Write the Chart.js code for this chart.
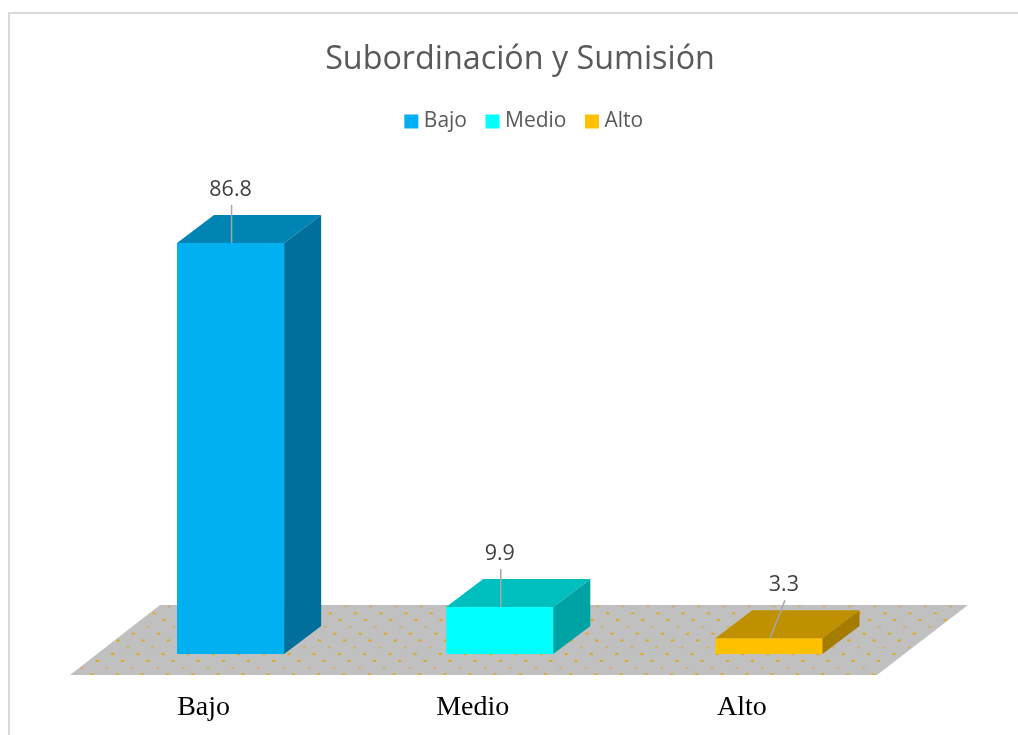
<!DOCTYPE html>
<html>
<head>
<meta charset="utf-8">
<style>
html,body{margin:0;padding:0;background:#fff;overflow:hidden}
#wrap{position:relative;width:1018px;height:735px}
#frame{position:absolute;left:8px;top:12px;width:1040px;height:760px;border-left:2px solid #D9D9D9;border-top:2px solid #D9D9D9;box-sizing:border-box;pointer-events:none}
canvas{display:block}
</style>
</head>
<body>
<div id="wrap"><canvas id="c" width="1018" height="735"></canvas><div id="frame"></div></div>
<script src="https://cdn.jsdelivr.net/npm/chart.js@4"></script>
<script>
const categories = ["Bajo", "Medio", "Alto"];
const values = [86.8, 9.9, 3.3];
const titleText = "Subordinación y Sumisión";
const frontColors = ["#00B0F0", "#00FFFF", "#FFC000"];
const topColors = ["#0084B4", "#00BFBF", "#BF9000"];
const sideColors = ["#006F9C", "#00A3A3", "#A67C00"];
const valueLabelShiftX = [0, 0, 15];

const DEPTH_X = 37, DEPTH_Y = 28;
const UI_FONT = '"Open Sans", sans-serif';

const layoutShift = {
  id: "layoutShift",
  afterLayout(chart) {
    chart.titleBlock.left += 20.25; chart.titleBlock.right += 20.25;
    chart.legend.left += 26.5; chart.legend.right += 26.5;
  }
};

const floor3d = {
  id: "floor3d",
  beforeDatasetsDraw(chart) {
    const { ctx, chartArea: a } = chart;
    const base = chart.scales.y.getPixelForValue(0);
    const fl = a.left - 26, fr = a.right - 26.5, yf = base + 21;
    const bl = a.left + 64, br = a.right + 64.5, yb = base - 49;
    ctx.save();
    ctx.beginPath();
    ctx.moveTo(fl, yf); ctx.lineTo(bl, yb); ctx.lineTo(br, yb); ctx.lineTo(fr, yf);
    ctx.closePath();
    ctx.fillStyle = "#C0C0C0";
    ctx.fill();
    ctx.clip();
    const rowStep = 6.8, colStep = 25.2;
    let k = 0;
    for (let y = yf - 0.5; y > yb; y -= rowStep, k++) {
      const faint = k % 3 === 1;
      ctx.fillStyle = faint ? "rgba(214,170,60,0.6)" : "rgba(225,165,20,0.95)";
      const off = (k * 15.3) % colStep;
      for (let x = fl - 30 + off; x < br + 30; x += colStep) {
        ctx.fillRect(x, y - 1, 3, 2);
      }
    }
    ctx.restore();
  }
};

const bars3d = {
  id: "bars3d",
  afterDatasetsDraw(chart) {
    const { ctx } = chart;
    chart.getDatasetMeta(0).data.forEach((bar, i) => {
      const l = bar.x - bar.width / 2, r = bar.x + bar.width / 2, t = bar.y, b = bar.base;
      ctx.save();
      ctx.fillStyle = topColors[i];
      ctx.beginPath();
      ctx.moveTo(l, t); ctx.lineTo(l + DEPTH_X, t - DEPTH_Y); ctx.lineTo(r + DEPTH_X, t - DEPTH_Y); ctx.lineTo(r, t);
      ctx.closePath(); ctx.fill();
      ctx.fillStyle = sideColors[i];
      ctx.beginPath();
      ctx.moveTo(r, t); ctx.lineTo(r + DEPTH_X, t - DEPTH_Y); ctx.lineTo(r + DEPTH_X, b - DEPTH_Y); ctx.lineTo(r, b);
      ctx.closePath(); ctx.fill();

      const lx = bar.x + valueLabelShiftX[i];
      ctx.strokeStyle = "#A6A6A6";
      ctx.lineWidth = 1.5;
      ctx.beginPath();
      ctx.moveTo(bar.x + 1, t);
      ctx.lineTo(lx + 1, t - 38);
      ctx.stroke();
      ctx.fillStyle = "#404040";
      ctx.font = "21.5px " + UI_FONT;
      ctx.textAlign = "center";
      ctx.textBaseline = "middle";
      ctx.fillText(values[i].toFixed(1), lx, t - 53);
      ctx.restore();
    });
  }
};

new Chart(document.getElementById("c"), {
  type: "bar",
  data: {
    labels: categories,
    datasets: [{ label: titleText, data: values, backgroundColor: frontColors, borderWidth: 0,
      barPercentage: 0.398, categoryPercentage: 1 }]
  },
  plugins: [layoutShift, floor3d, bars3d],
  options: {
    responsive: false,
    animation: false,
    layout: { padding: { left: 96, right: 114.5, top: 0, bottom: 0 } },
    plugins: {
      tooltip: { enabled: false },
      title: {
        display: true, text: titleText, color: "#595959",
        font: { family: UI_FONT, size: 32.3, weight: "normal" },
        padding: { top: 40, bottom: 8.74 }
      },
      legend: {
        display: true, position: "top",
        labels: {
          usePointStyle: true, boxWidth: 4, boxHeight: 14, padding: 23.5, color: "#595959",
          font: { family: UI_FONT, size: 21 },
          generateLabels: () => categories.map((c, i) => ({
            text: c, fillStyle: frontColors[i], strokeStyle: frontColors[i], lineWidth: 0,
            fontColor: "#595959", pointStyle: "rect", index: i
          }))
        }
      }
    },
    scales: {
      y: { display: false, min: 0, max: 108.1 },
      x: {
        afterFit(s) { s.height = 81; },
        grid: { display: false, drawTicks: false },
        border: { display: false },
        ticks: {
          color: "#000000", padding: 37, labelOffset: -27, maxRotation: 0, autoSkip: false,
          font: { family: '"Liberation Serif", serif', size: 28 }
        }
      }
    }
  }
});
</script>
</body>
</html>
